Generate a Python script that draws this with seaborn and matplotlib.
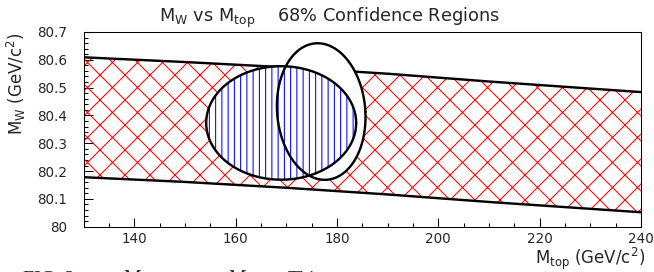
import numpy as np
import matplotlib
matplotlib.use("Agg")
import matplotlib.pyplot as plt
from matplotlib.ticker import MultipleLocator
import seaborn as sns

# allowed band from the other measurements: M_top vs M_W limits
band_mtop = [130, 150, 170, 190, 210, 240]
band_upper = [80.609, 80.592, 80.573, 80.550, 80.522, 80.484]
band_lower = [80.178, 80.161, 80.140, 80.116, 80.089, 80.052]

# hatched 68% region (centre, half widths)
blue_centre = [169.0, 80.373]
blue_half = [14.8, 0.204]

# open 68% region (centre, half widths, small tilt in M_top)
open_centre = [176.9, 80.414]
open_half = [8.72, 0.2455]
open_tilt = 0.7

xticks = [140, 160, 180, 200, 220, 240]
yticks = [80, 80.1, 80.2, 80.3, 80.4, 80.5, 80.6, 80.7]
ytick_labels = ["80", "80.1", "80.2", "80.3", "80.4", "80.5", "80.6", "80.7"]

sns.set_style("ticks")
plt.rcParams["font.family"] = ["DejaVu Sans"]
plt.rcParams["mathtext.fontset"] = "dejavusans"
plt.rcParams["hatch.linewidth"] = 1.0

DPI = 75
fig = plt.figure(figsize=(655 / DPI, 272 / DPI), dpi=DPI)
ax = fig.add_axes([0.1276, 0.1665, 0.8509, 0.7159])

# ellipse outlines
t = np.linspace(0, 2 * np.pi, 361)
bx = blue_centre[0] + blue_half[0] * np.cos(t)
by = blue_centre[1] + blue_half[1] * np.sin(t)
ox = open_centre[0] + open_half[0] * np.cos(t) - open_tilt * np.sin(t)
oy = open_centre[1] + open_half[1] * np.sin(t)

# band
ax.fill_between(band_mtop, band_lower, band_upper, facecolor="none",
                edgecolor="red", hatch="x", linewidth=0, zorder=1)
sns.lineplot(x=band_mtop, y=band_upper, color="black", lw=2.3, ax=ax, zorder=2)
sns.lineplot(x=band_mtop, y=band_lower, color="black", lw=2.3, ax=ax, zorder=2)

# regions
ax.fill(ox, oy, facecolor="white", edgecolor="none", zorder=3)
ax.fill(bx, by, facecolor="white", edgecolor="blue", hatch="||", linewidth=0, zorder=4)
sns.lineplot(x=bx, y=by, sort=False, estimator=None, color="black", lw=2.3, ax=ax, zorder=5)
sns.lineplot(x=ox, y=oy, sort=False, estimator=None, color="black", lw=2.3, ax=ax, zorder=6)

ax.set_xlim(130, 240)
ax.set_ylim(80, 80.7)
ax.set_xticks(xticks)
ax.set_yticks(yticks)
ax.set_yticklabels(ytick_labels)
ax.xaxis.set_minor_locator(MultipleLocator(5))
ax.yaxis.set_minor_locator(MultipleLocator(0.02))
ax.tick_params(which="both", direction="in", top=False, right=False, width=1, color="black")
ax.tick_params(which="major", length=8.5)
ax.tick_params(which="minor", length=4.3)
ax.tick_params(axis="x", which="major", labelsize=13, pad=5.5)
ax.tick_params(axis="y", which="major", labelsize=13, pad=16)
for s in ax.spines.values():
    s.set_linewidth(1)
    s.set_color("black")
    s.set_visible(True)

ax.set_xlabel(r"M$_{\mathregular{top}}$ (GeV/c$^{\mathregular{2}}$)", fontsize=16, loc="right")
ax.xaxis.set_label_coords(1.0074, -0.098)
ax.set_ylabel(r"M$_{\mathregular{W}}$ (GeV/c$^{\mathregular{2}}$)", fontsize=16, loc="top")
ax.yaxis.set_label_coords(-0.1, 1.0)

fig.text(0.503, 250 / 272, r"M$_{\mathregular{W}}$ vs M$_{\mathregular{top}}$    68% Confidence Regions",
         ha="center", va="baseline", fontsize=17)

# cut-off caption under the figure
cap = dict(family="Liberation Serif", fontsize=19, va="baseline")
fig.text(23 / 655, -13 / 272, "FIG. 3:", **cap)
fig.text(123 / 655, -13 / 272, r"M$_W$ vs", **cap)
fig.text(228 / 655, -13 / 272, r"M$_{top}$.", **cap)
fig.text(288 / 655, -13 / 272, "This", **cap)

fig.savefig("out.png", dpi=DPI)
